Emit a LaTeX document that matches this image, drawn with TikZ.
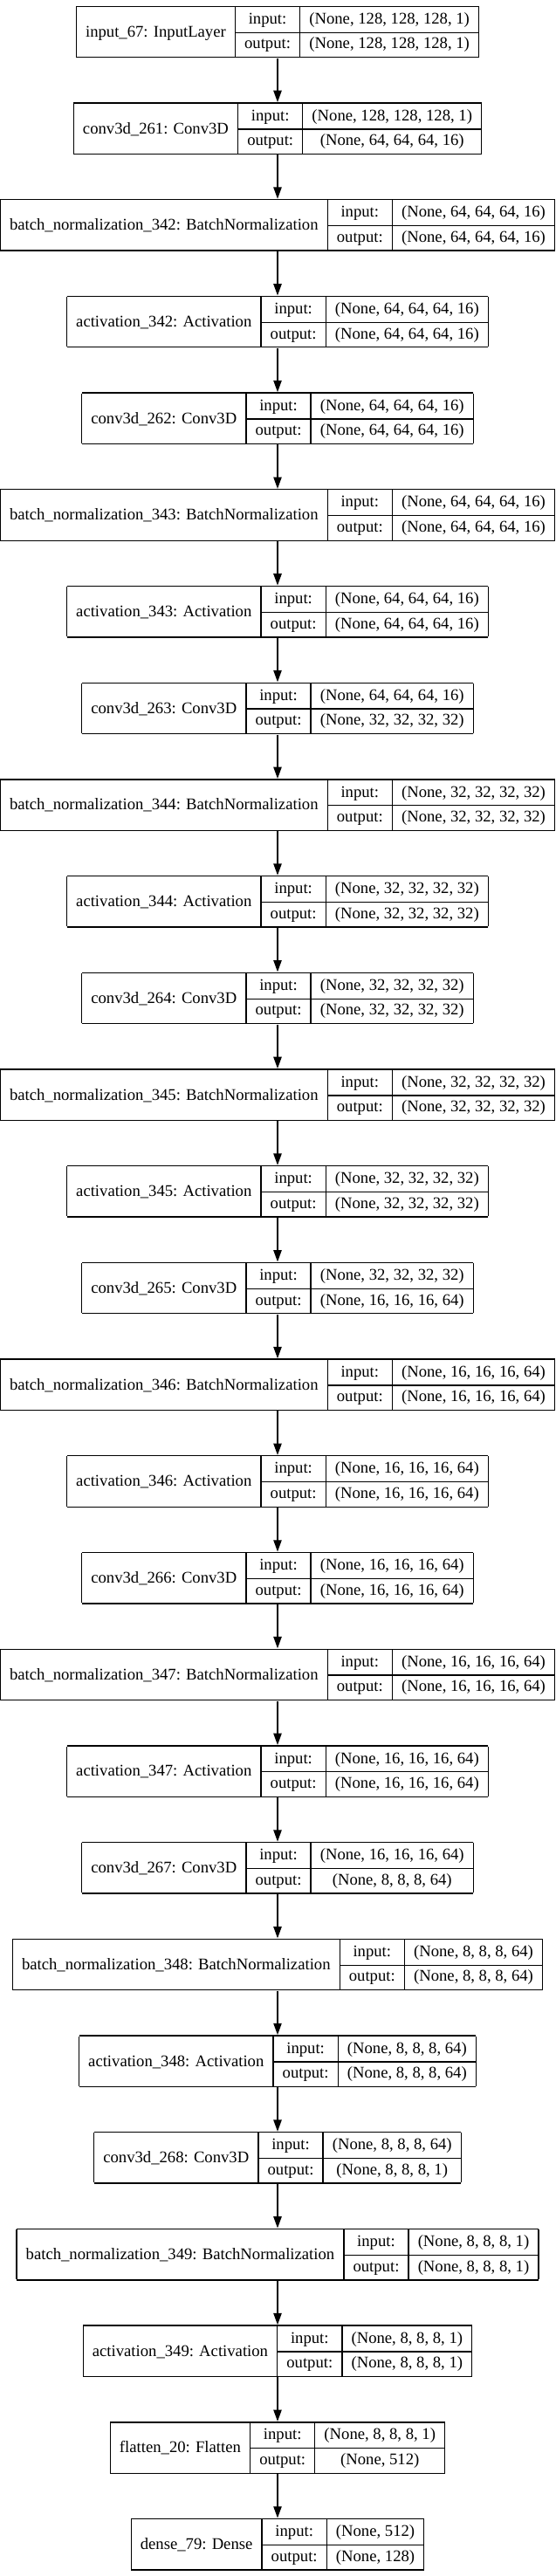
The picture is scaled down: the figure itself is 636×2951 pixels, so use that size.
\documentclass[tikz,border=0pt]{standalone}
\usepackage{fontspec}
\setmainfont{Liberation Serif}
\usepackage{tikz}
\usetikzlibrary{arrows.meta}

\newcommand{\gvfont}{\fontsize{14}{16}\selectfont}
\newcommand{\rowstrut}{\rule[-6.8pt]{0pt}{21.4pt}}
\setlength\tabcolsep{8pt}
\setlength\arrayrulewidth{1pt}

% one keras layer record: number, title, input shape, output shape
\newcommand{\record}[4]{%
  \node[rec] (l#1) at (318, {36.5+(#1-1)*110.7}) {%
    \begin{tabular}{|c|c|c|}
      \hline
      \raisebox{-11.2pt}[0pt][0pt]{#2} & \rowstrut input: & #3 \\ \cline{2-3}
      & \rowstrut output: & #4 \\
      \hline
    \end{tabular}};
}

\begin{document}
\begin{tikzpicture}[
    x=0.75pt, y=-0.75pt,
    rec/.style={rectangle, inner sep=0pt, font=\gvfont},
    arrow/.style={-{Triangle[length=10pt, width=7pt]}, line width=1pt}
  ]
  \useasboundingbox (0,0) rectangle (636,2951);

  % Layers
  \record{1}{input\_67: InputLayer}{(None, 128, 128, 128, 1)}{(None, 128, 128, 128, 1)}
  \record{2}{conv3d\_261: Conv3D}{(None, 128, 128, 128, 1)}{(None, 64, 64, 64, 16)}
  \record{3}{batch\_normalization\_342: BatchNormalization}{(None, 64, 64, 64, 16)}{(None, 64, 64, 64, 16)}
  \record{4}{activation\_342: Activation}{(None, 64, 64, 64, 16)}{(None, 64, 64, 64, 16)}
  \record{5}{conv3d\_262: Conv3D}{(None, 64, 64, 64, 16)}{(None, 64, 64, 64, 16)}
  \record{6}{batch\_normalization\_343: BatchNormalization}{(None, 64, 64, 64, 16)}{(None, 64, 64, 64, 16)}
  \record{7}{activation\_343: Activation}{(None, 64, 64, 64, 16)}{(None, 64, 64, 64, 16)}
  \record{8}{conv3d\_263: Conv3D}{(None, 64, 64, 64, 16)}{(None, 32, 32, 32, 32)}
  \record{9}{batch\_normalization\_344: BatchNormalization}{(None, 32, 32, 32, 32)}{(None, 32, 32, 32, 32)}
  \record{10}{activation\_344: Activation}{(None, 32, 32, 32, 32)}{(None, 32, 32, 32, 32)}
  \record{11}{conv3d\_264: Conv3D}{(None, 32, 32, 32, 32)}{(None, 32, 32, 32, 32)}
  \record{12}{batch\_normalization\_345: BatchNormalization}{(None, 32, 32, 32, 32)}{(None, 32, 32, 32, 32)}
  \record{13}{activation\_345: Activation}{(None, 32, 32, 32, 32)}{(None, 32, 32, 32, 32)}
  \record{14}{conv3d\_265: Conv3D}{(None, 32, 32, 32, 32)}{(None, 16, 16, 16, 64)}
  \record{15}{batch\_normalization\_346: BatchNormalization}{(None, 16, 16, 16, 64)}{(None, 16, 16, 16, 64)}
  \record{16}{activation\_346: Activation}{(None, 16, 16, 16, 64)}{(None, 16, 16, 16, 64)}
  \record{17}{conv3d\_266: Conv3D}{(None, 16, 16, 16, 64)}{(None, 16, 16, 16, 64)}
  \record{18}{batch\_normalization\_347: BatchNormalization}{(None, 16, 16, 16, 64)}{(None, 16, 16, 16, 64)}
  \record{19}{activation\_347: Activation}{(None, 16, 16, 16, 64)}{(None, 16, 16, 16, 64)}
  \record{20}{conv3d\_267: Conv3D}{(None, 16, 16, 16, 64)}{(None, 8, 8, 8, 64)}
  \record{21}{batch\_normalization\_348: BatchNormalization}{(None, 8, 8, 8, 64)}{(None, 8, 8, 8, 64)}
  \record{22}{activation\_348: Activation}{(None, 8, 8, 8, 64)}{(None, 8, 8, 8, 64)}
  \record{23}{conv3d\_268: Conv3D}{(None, 8, 8, 8, 64)}{(None, 8, 8, 8, 1)}
  \record{24}{batch\_normalization\_349: BatchNormalization}{(None, 8, 8, 8, 1)}{(None, 8, 8, 8, 1)}
  \record{25}{activation\_349: Activation}{(None, 8, 8, 8, 1)}{(None, 8, 8, 8, 1)}
  \record{26}{flatten\_20: Flatten}{(None, 8, 8, 8, 1)}{(None, 512)}
  \record{27}{dense\_79: Dense}{(None, 512)}{(None, 128)}

  % Arrows
  \foreach \i [evaluate=\i as \j using int(\i+1)] in {1,...,26}
    \draw[arrow] (l\i) -- (l\j);
\end{tikzpicture}
\end{document}
